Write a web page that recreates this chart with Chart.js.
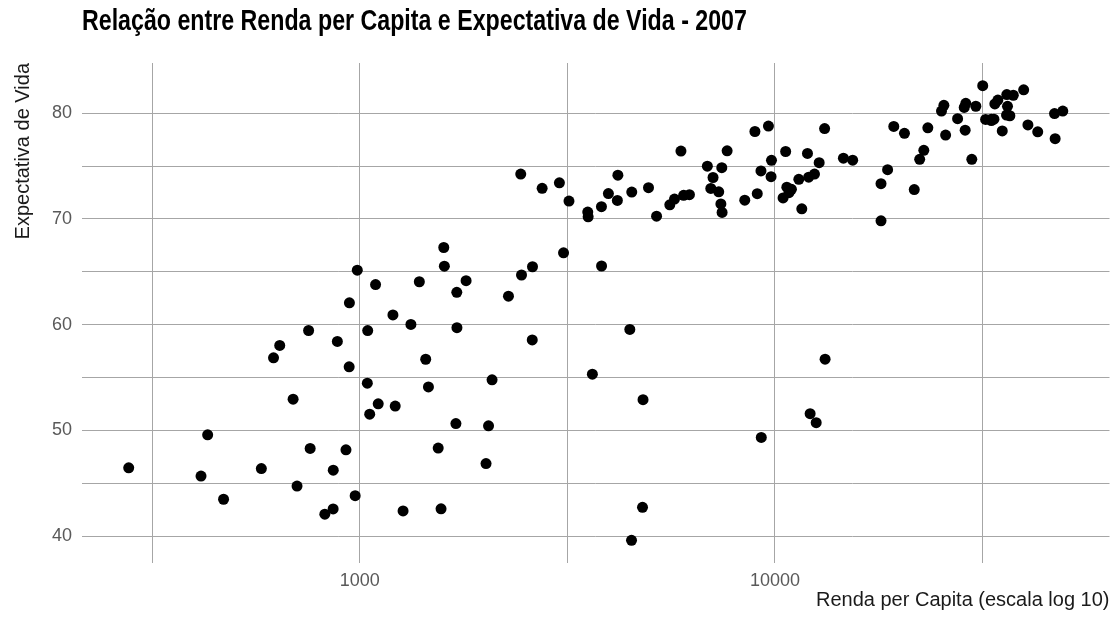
<!DOCTYPE html>
<html>
<head>
<meta charset="utf-8">
<script src="https://cdn.jsdelivr.net/npm/chart.js@4.4.1/dist/chart.umd.min.js"></script>
<style>
  html, body { margin: 0; padding: 0; background: #ffffff; }
  #wrap { position: relative; width: 1115px; height: 626px; }
  #title { position: absolute; left: 82px; top: 4px; margin: 0;
    font-family: 'Liberation Sans', Arial, sans-serif;
    font-weight: bold; font-size: 29px; color: #000; white-space: nowrap;
    transform: scaleX(0.8); transform-origin: 0 0; }
  canvas { position: absolute; left: 0; top: 0; }
</style>
</head>
<body>
<div id="wrap">
  <canvas id="c" width="1115" height="626"></canvas>
  <div id="title">Relação entre Renda per Capita e Expectativa de Vida - 2007</div>
</div>
<script>
// Gapminder 2007: countries, GDP per capita, life expectancy
const countries = ["Afghanistan","Albania","Algeria","Angola","Argentina","Australia","Austria","Bahrain","Bangladesh","Belgium","Benin","Bolivia","Bosnia and Herzegovina","Botswana","Brazil","Bulgaria","Burkina Faso","Burundi","Cambodia","Cameroon","Canada","Central African Republic","Chad","Chile","China","Colombia","Comoros","Congo, Dem. Rep.","Congo, Rep.","Costa Rica","Cote d'Ivoire","Croatia","Cuba","Czech Republic","Denmark","Djibouti","Dominican Republic","Ecuador","Egypt","El Salvador","Equatorial Guinea","Eritrea","Ethiopia","Finland","France","Gabon","Gambia","Germany","Ghana","Greece","Guatemala","Guinea","Guinea-Bissau","Haiti","Honduras","Hong Kong","Hungary","Iceland","India","Indonesia","Iran","Iraq","Ireland","Israel","Italy","Jamaica","Japan","Jordan","Kenya","Korea, Dem. Rep.","Korea, Rep.","Kuwait","Lebanon","Lesotho","Liberia","Libya","Madagascar","Malawi","Malaysia","Mali","Mauritania","Mauritius","Mexico","Mongolia","Montenegro","Morocco","Mozambique","Myanmar","Namibia","Nepal","Netherlands","New Zealand","Nicaragua","Niger","Nigeria","Norway","Oman","Pakistan","Panama","Paraguay","Peru","Philippines","Poland","Portugal","Puerto Rico","Reunion","Romania","Rwanda","Sao Tome and Principe","Saudi Arabia","Senegal","Serbia","Sierra Leone","Singapore","Slovak Republic","Slovenia","Somalia","South Africa","Spain","Sri Lanka","Sudan","Swaziland","Sweden","Switzerland","Syria","Taiwan","Tanzania","Thailand","Togo","Trinidad and Tobago","Tunisia","Turkey","Uganda","United Kingdom","United States","Uruguay","Venezuela","Vietnam","West Bank and Gaza","Yemen, Rep.","Zambia","Zimbabwe"];

const gdpPercap = [974.58,5937.03,6223.37,4797.23,12779.38,34435.37,36126.49,29796.05,1391.25,33692.61,1441.28,3822.14,7446.30,12569.85,9065.80,10680.79,1217.03,430.07,1713.78,2042.10,36319.24,706.02,1704.06,13171.64,4959.11,7006.58,986.15,277.55,3632.56,9645.06,1544.75,14619.22,8948.10,22833.31,35278.42,2082.48,6025.37,6873.26,5581.18,5728.35,12154.09,641.37,690.81,33207.08,30470.02,13206.48,752.75,32170.37,1327.61,27538.41,5186.05,942.65,579.23,1201.64,3548.33,39724.98,18008.94,36180.79,2452.21,3540.65,11605.71,4471.06,40676.00,25523.28,28569.72,7320.88,31656.07,4519.46,1463.25,1593.07,23348.14,47306.99,10461.06,1569.33,414.51,12057.50,1044.77,759.35,12451.66,1042.58,1803.15,10956.99,11977.57,3095.77,9253.90,3820.18,823.69,944.00,4811.06,1091.36,36797.93,25185.01,2749.32,619.68,2013.98,49357.19,22316.19,2605.95,9809.19,4172.84,7408.91,3190.48,15389.92,20509.65,19328.71,7670.12,10808.48,863.09,1598.44,21654.83,1712.47,9786.53,862.55,47143.18,18678.31,25768.26,926.14,9269.66,28821.06,3970.10,2602.39,4513.48,33859.75,37506.42,4184.55,28718.28,1107.48,7458.40,882.97,18008.51,7092.92,8458.28,1056.38,33203.26,42951.65,10611.46,11415.81,2441.58,3025.35,2280.77,1271.21,469.71];

const lifeExp = [43.83,76.42,72.30,42.73,75.32,81.24,79.83,75.64,64.06,79.44,56.73,65.55,74.85,50.73,72.39,73.01,52.30,49.58,59.72,50.43,80.65,44.74,50.65,78.55,72.96,72.89,65.15,46.46,55.32,78.78,48.33,75.75,78.27,76.49,78.33,54.79,72.24,74.99,71.34,71.88,51.58,58.04,52.95,79.31,80.66,56.74,59.45,79.41,60.02,79.48,70.26,56.01,46.39,60.92,70.20,82.21,73.34,81.76,64.70,70.65,70.96,59.55,78.89,80.75,80.55,72.57,82.60,72.54,54.11,67.30,78.62,77.59,71.99,42.59,45.68,73.95,59.44,48.30,74.24,54.47,64.16,72.80,76.20,66.80,74.54,71.16,42.08,62.07,52.91,63.79,79.76,80.20,72.90,56.87,46.86,80.20,75.64,65.48,75.54,71.75,71.42,71.69,75.56,78.10,78.75,76.44,72.48,46.24,65.53,72.78,63.06,74.00,42.57,79.97,74.66,77.93,48.16,49.34,80.94,72.40,58.56,39.61,80.88,81.70,74.14,78.40,52.52,70.62,58.42,69.82,73.92,71.78,51.54,79.43,78.24,76.38,73.75,74.25,73.42,62.70,42.38,43.49];

// Axis ticks (labelled) and minor grid positions
const xTickValues = [1000, 10000];
const xTickLabels = ["1000", "10000"];
const xMinorGrid = [316.228, 3162.28, 31622.8];
const yTickValues = [40, 50, 60, 70, 80];
const yTickLabels = ["40", "50", "60", "70", "80"];
const yMinorGrid = [45, 55, 65, 75];

const xLabel = "Renda per Capita (escala log 10)";
const yLabel = "Expectativa de Vida";

// axis limits (data range + 5% expansion, x in log space)
const lgMin = Math.log10(Math.min(...gdpPercap)), lgMax = Math.log10(Math.max(...gdpPercap));
const lgPad = (lgMax - lgMin) * 0.05;
const yMinD = Math.min(...lifeExp), yMaxD = Math.max(...lifeExp);
const yPad = (yMaxD - yMinD) * 0.05;

const points = gdpPercap.map((g, i) => ({ x: g, y: lifeExp[i], country: countries[i] }));

const FONT = "'Liberation Sans', Arial, sans-serif";
const GRID = '#a6a6a6';

new Chart(document.getElementById('c'), {
  type: 'scatter',
  data: {
    datasets: [{
      label: 'Países',
      data: points,
      backgroundColor: '#000000',
      borderWidth: 0,
      pointRadius: 5.5,
      pointHoverRadius: 5.5
    }]
  },
  options: {
    responsive: false,
    animation: false,
    layout: { padding: { top: 63, left: 11, right: 3, bottom: 14 } },
    plugins: { legend: { display: false }, tooltip: { enabled: false }, title: { display: false } },
    scales: {
      x: {
        type: 'logarithmic',
        min: Math.pow(10, lgMin - lgPad),
        max: Math.pow(10, lgMax + lgPad),
        border: { display: false },
        grid: { color: GRID, lineWidth: 1, drawTicks: false },
        afterBuildTicks: (s) => {
          s.ticks = [...xMinorGrid, ...xTickValues].sort((a, b) => a - b).map(v => ({ value: v }));
        },
        afterFit: (s) => { s.height = 49; },
        ticks: {
          autoSkip: false, maxRotation: 0, padding: 7,
          color: '#595959', font: { family: FONT, size: 18 },
          callback: (v) => { const i = xTickValues.indexOf(v); return i >= 0 ? xTickLabels[i] : ''; }
        },
        title: { display: true, text: xLabel, align: 'end', color: '#1a1a1a', padding: 0,
                 font: { family: FONT, size: 20 } }
      },
      y: {
        type: 'linear',
        min: yMinD - yPad,
        max: yMaxD + yPad,
        border: { display: false },
        grid: { color: GRID, lineWidth: 1, drawTicks: false },
        afterBuildTicks: (s) => {
          s.ticks = [...yMinorGrid, ...yTickValues].sort((a, b) => a - b).map(v => ({ value: v }));
        },
        afterFit: (s) => { s.width = 71; },
        ticks: {
          autoSkip: false, padding: 10,
          color: '#595959', font: { family: FONT, size: 18 },
          callback: (v) => { const i = yTickValues.indexOf(v); return i >= 0 ? yTickLabels[i] : ''; }
        },
        title: { display: true, text: yLabel, align: 'end', color: '#1a1a1a', padding: 0,
                 font: { family: FONT, size: 20 } }
      }
    }
  }
});
</script>
</body>
</html>
